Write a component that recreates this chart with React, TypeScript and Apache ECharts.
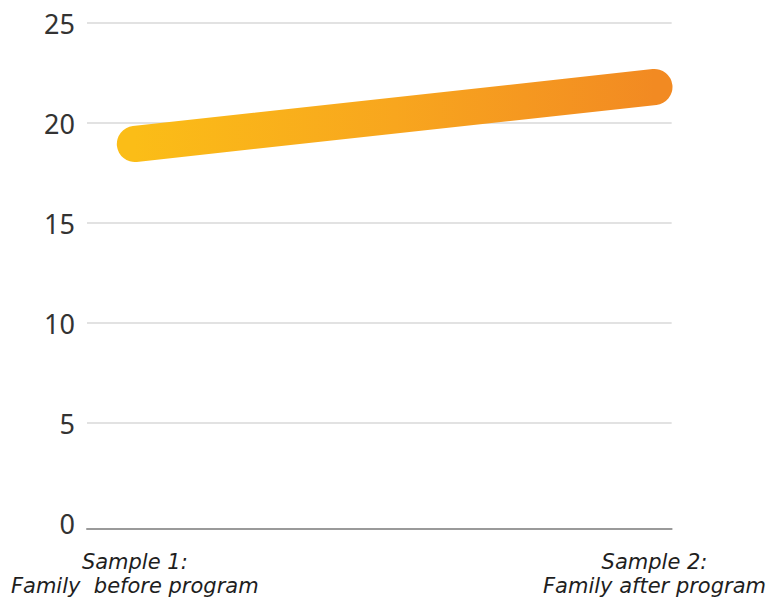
import React, { useEffect, useRef } from "react";
import * as echarts from "echarts";

// Categories and the measured score for each sample
const categories = ["Sample 1:\nFamily  before program", "Sample 2:\nFamily after program"];
const scores = [18.95, 21.8];
// Positions of the two samples on the horizontal value scale
const samplePositions = [0, 1];
const yTicks = [0, 5, 10, 15, 20, 25];

export default function App() {
  const ref = useRef<HTMLDivElement>(null);

  useEffect(() => {
    document.body.style.margin = "0";
    if (!ref.current) return;
    const chart = echarts.init(ref.current, null, { renderer: "svg" });

    chart.setOption({
      animation: false,
      backgroundColor: "#ffffff",
      grid: { left: 87, right: 96, top: 23, bottom: 78, containLabel: false },
      xAxis: {
        type: "value",
        min: -0.092,
        max: 1.033,
        offset: 6,
        axisLine: { show: true, onZero: false, lineStyle: { color: "#9a9a9a", width: 2 } },
        axisTick: { show: false },
        splitLine: { show: false },
        axisLabel: {
          customValues: samplePositions,
          formatter: (v: number) => categories[samplePositions.indexOf(Math.round(v))] ?? "",
          color: "#1e1e1e",
          fontSize: 21,
          fontStyle: "italic",
          fontFamily: "'DejaVu Sans', sans-serif",
          lineHeight: 24,
          margin: 21,
        },
      },
      yAxis: {
        type: "value",
        min: yTicks[0],
        max: yTicks[yTicks.length - 1],
        interval: 5,
        axisLine: { show: false, onZero: false },
        axisTick: { show: false },
        axisLabel: {
          color: "#333333",
          fontSize: 27,
          fontFamily: "'Noto Sans', sans-serif",
          margin: 12,
        },
        splitLine: {
          show: true,
          showMinLine: false,
          lineStyle: { color: "#d9d9d9", width: 1.5 },
        },
      },
      series: [
        {
          type: "line",
          data: samplePositions.map((x, i) => [x, scores[i]]),
          symbol: "none",
          lineStyle: {
            width: 36,
            cap: "round",
            join: "round",
            color: new echarts.graphic.LinearGradient(0, 0, 1, 0, [
              { offset: 0, color: "#fbbd17" },
              { offset: 0.5, color: "#f8a61e" },
              { offset: 1, color: "#f28a22" },
            ]),
          },
        },
      ],
    });

    return () => chart.dispose();
  }, []);

  return <div ref={ref} style={{ width: 769, height: 601 }} />;
}
